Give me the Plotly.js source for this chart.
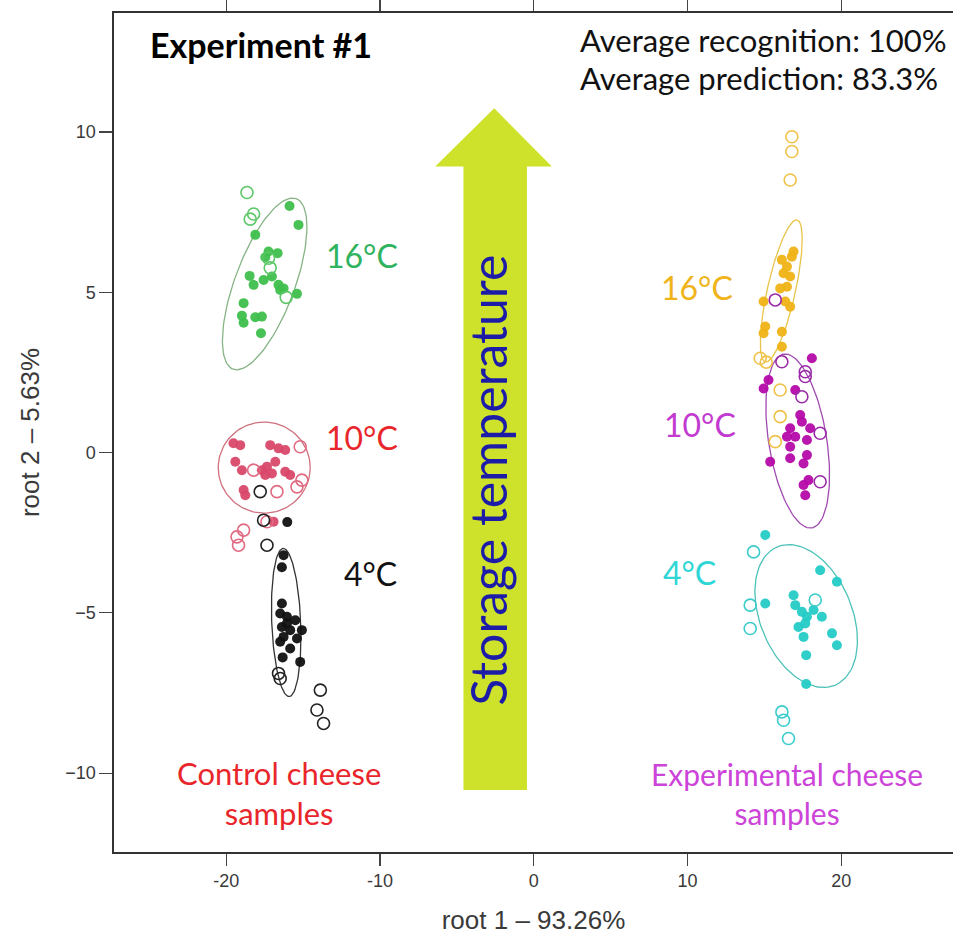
<!DOCTYPE html>
<html>
<head>
<meta charset="utf-8">
<script src="https://cdn.plot.ly/plotly-3.0.1.min.js"></script>
<style>html,body{margin:0;padding:0;background:#fff;}#chart{width:953px;height:936px;}</style>
</head>
<body>
<div id="chart"></div>
<script>
// ---- Data ----
// Control cheese, 16°C
const ctl16FilledX = [-15.88,-15.30,-18.11,-17.25,-16.66,-17.46,-18.48,-18.22,-17.57,-17.03,-16.60,-16.27,-15.40,-18.87,-18.98,-18.87,-18.11,-17.68,-17.74,-16.49];
const ctl16FilledY = [7.69,7.10,6.79,6.27,6.22,6.09,5.51,5.23,5.38,5.49,5.23,5.12,4.95,4.66,4.27,4.05,4.22,4.24,3.72,5.07];
const ctl16OpenX = [-18.65,-18.22,-18.44,-17.25,-17.14,-16.10];
const ctl16OpenY = [8.11,7.44,7.28,6.06,5.76,4.84];
// Control cheese, 10°C
const ctl10FilledX = [-19.53,-19.09,-17.14,-16.60,-16.16,-19.41,-18.98,-17.68,-17.35,-16.81,-17.46,-16.16,-15.84,-18.87,-18.76,-16.92,-17.03];
const ctl10FilledY = [0.29,0.23,0.23,0.13,0.08,-0.29,-0.55,-0.55,-0.44,-0.29,-0.70,-0.60,-0.70,-1.17,-1.33,-2.16,-0.65];
const ctl10OpenX = [-15.19,-18.22,-15.08,-15.40,-16.70,-17.35,-18.87,-19.30,-19.20];
const ctl10OpenY = [0.18,-0.55,-0.86,-1.07,-1.22,-2.16,-2.42,-2.63,-2.89];
// Control cheese, 4°C
const ctl4FilledX = [-16.03,-16.27,-16.38,-16.38,-16.49,-16.05,-15.51,-15.08,-16.38,-16.27,-15.84,-15.40,-16.49,-15.84,-16.33,-15.19,-16.05];
const ctl4FilledY = [-2.17,-3.20,-3.58,-4.71,-5.02,-5.12,-5.23,-5.54,-5.44,-5.75,-5.54,-5.80,-5.90,-6.11,-6.39,-6.53,-5.33];
const ctl4OpenX = [-17.79,-17.57,-17.35,-16.60,-16.49,-13.88,-14.10,-13.67];
const ctl4OpenY = [-1.22,-2.11,-2.89,-6.89,-7.05,-7.41,-8.03,-8.45];
// Experimental cheese, 16°C
const exp16FilledX = [16.90,16.14,16.79,16.25,16.68,16.47,16.03,14.95,16.36,16.68,15.06,14.95,16.14,16.14,16.47];
const exp16FilledY = [6.27,6.01,6.11,5.59,5.49,5.17,5.12,4.71,4.71,4.55,3.93,3.72,3.77,3.30,5.80];
const exp16OpenX = [16.79,16.79,16.68,14.73,15.12,16.03,16.03,15.71];
const exp16OpenY = [9.85,9.39,8.50,2.94,2.82,1.95,1.12,0.34];
// Experimental cheese, 10°C
const exp10FilledX = [18.09,15.27,14.95,17.01,17.33,17.44,16.68,17.98,17.01,17.77,16.68,15.38,16.68,17.77,17.55,17.55,17.87,17.66,16.47];
const exp10FilledY = [2.94,2.26,2.00,1.95,1.17,0.96,0.76,0.76,0.49,0.39,0.18,-0.29,-0.18,-0.08,-0.34,-1.01,-0.86,-1.33,0.49];
const exp10OpenX = [15.71,16.14,17.66,17.66,17.44,18.63,18.63];
const exp10OpenY = [4.76,2.83,2.52,2.37,1.74,0.60,-0.91];
// Experimental cheese, 4°C
const exp4FilledX = [15.06,18.63,19.72,15.06,16.90,17.01,17.44,17.77,18.74,17.22,17.66,17.55,19.40,19.72,17.72,17.72,18.20];
const exp4FilledY = [-2.57,-3.67,-4.03,-4.71,-4.45,-4.76,-4.97,-5.12,-5.12,-5.44,-5.33,-5.75,-5.64,-6.01,-6.32,-7.22,-4.91];
const exp4OpenX = [14.30,14.08,14.08,18.31,16.14,16.25,16.57];
const exp4OpenY = [-3.10,-4.76,-5.49,-4.60,-8.09,-8.35,-8.92];

// Confidence ellipses: centre and two conjugate semi-axis vectors (data units)
const ellipseNames = ["ctl16","ctl10","ctl4","exp16","exp10","exp4"];
const ellipseCx = [-17.50,-17.53,-16.10,16.10,17.17,17.72];
const ellipseCy = [5.26,-0.47,-5.30,5.04,0.36,-5.10];
const ellipseUx = [2.05,2.99,-0.195,1.03,-0.91,1.87];
const ellipseUy = [2.66,0.00,2.31,2.215,2.71,-2.16];
const ellipseVx = [1.83,0.00,0.94,0.89,1.86,-2.76];
const ellipseVy = [-0.32,1.42,0.02,-0.096,0.144,-0.55];

// Storage-temperature arrow outline (data units)
const arrowX = [-4.57,-4.57,-6.41,-2.57,1.18,-0.44,-0.44];
const arrowY = [-10.53,8.92,8.92,10.74,8.92,8.92,-10.53];

// Tick labels
const xTickVals = [-20,-10,0,10,20];
const yTickVals = [-10,-5,0,5,10];

// ---- Styling ----
const groupFill = {ctl16:"#3fbf4c", ctl10:"#d9486a", ctl4:"#111111", exp16:"#efb316", exp10:"#b40aa8", exp4:"#25cbc6"};
const groupOpen = {ctl16:"#5cc767", ctl10:"#e06a82", ctl4:"#222222", exp16:"#f0c24a", exp10:"#9a2aa8", exp4:"#3ccccc"};
const groupEll  = {ctl16:"#86b486", ctl10:"#d0707e", ctl4:"#333333", exp16:"#e8c448", exp10:"#a04ab0", exp4:"#4cc2b8"};

const groups = {
  ctl16:[ctl16FilledX,ctl16FilledY,ctl16OpenX,ctl16OpenY],
  ctl10:[ctl10FilledX,ctl10FilledY,ctl10OpenX,ctl10OpenY],
  ctl4:[ctl4FilledX,ctl4FilledY,ctl4OpenX,ctl4OpenY],
  exp16:[exp16FilledX,exp16FilledY,exp16OpenX,exp16OpenY],
  exp10:[exp10FilledX,exp10FilledY,exp10OpenX,exp10OpenY],
  exp4:[exp4FilledX,exp4FilledY,exp4OpenX,exp4OpenY]
};

const traces = [];
ellipseNames.forEach((g,i)=>{
  const ex=[], ey=[];
  for(let k=0;k<=120;k++){
    const t = 2*Math.PI*k/120;
    ex.push(ellipseCx[i] + ellipseUx[i]*Math.cos(t) + ellipseVx[i]*Math.sin(t));
    ey.push(ellipseCy[i] + ellipseUy[i]*Math.cos(t) + ellipseVy[i]*Math.sin(t));
  }
  traces.push({x:ex,y:ey,mode:"lines",type:"scatter",line:{color:groupEll[g],width:1.3},hoverinfo:"skip",showlegend:false});
});
Object.keys(groups).forEach(g=>{
  const d = groups[g];
  traces.push({x:d[0],y:d[1],mode:"markers",type:"scatter",showlegend:false,
    marker:{symbol:"circle",size:10,color:groupFill[g],opacity:0.95,line:{width:0}}});
  traces.push({x:d[2],y:d[3],mode:"markers",type:"scatter",showlegend:false,
    marker:{symbol:"circle-open",size:12,color:groupOpen[g],line:{width:1.6,color:groupOpen[g]}}});
});

let arrowPath = "M " + arrowX[0] + "," + arrowY[0];
for(let i=1;i<arrowX.length;i++){ arrowPath += " L " + arrowX[i] + "," + arrowY[i]; }
arrowPath += " Z";

const cal = "Lato, 'Open Sans', sans-serif";
const axFont = "Liberation Sans, Arial, sans-serif";
const ann = (text,x,y,color,size,extra)=>Object.assign({text:text,x:x,y:y,xref:"x",yref:"y",showarrow:false,
  font:{family:cal,size:size,color:color},xanchor:"center",yanchor:"middle"},extra||{});

const layout = {
  width:953, height:936,
  margin:{l:114,r:0,t:13,b:84},
  paper_bgcolor:"#ffffff", plot_bgcolor:"#ffffff",
  showlegend:false,
  xaxis:{range:[-27.3,27.27],tickvals:xTickVals,ticktext:xTickVals.map(String),ticks:"outside",ticklen:12,tickwidth:1.2,tickcolor:"#444",
    showline:true,linecolor:"#333",linewidth:1.6,mirror:"ticks",showgrid:false,zeroline:false,
    tickfont:{family:axFont,size:18,color:"#3a3a3a"},
    title:{text:"root 1 – 93.26%",font:{family:axFont,size:26,color:"#3a3a3a"},standoff:20}},
  yaxis:{range:[-12.46,13.71],tickvals:yTickVals,ticktext:yTickVals.map(v=>v<0?"−"+Math.abs(v):String(v)),ticks:"outside",ticklen:13,tickwidth:1.2,tickcolor:"#444",
    showline:true,linecolor:"#333",linewidth:1.6,mirror:false,showgrid:false,zeroline:false,
    tickfont:{family:axFont,size:18,color:"#3a3a3a"},
    title:{text:"root 2 – 5.63%",font:{family:axFont,size:26,color:"#3a3a3a"},standoff:18}},
  shapes:[{type:"path",xref:"x",yref:"y",path:arrowPath,fillcolor:"#cfe22b",line:{width:0},layer:"below"}],
  annotations:[
    {text:"<b>Experiment #1</b>",xref:"paper",yref:"paper",x:0.0405,y:0.962,xanchor:"left",yanchor:"middle",showarrow:false,font:{family:cal,size:34,color:"#000"}},
    {text:"Average recognition: 100%",xref:"paper",yref:"paper",x:0.553,y:0.968,xanchor:"left",yanchor:"middle",showarrow:false,font:{family:cal,size:31,color:"#111"}},
    {text:"Average prediction: 83.3%",xref:"paper",yref:"paper",x:0.553,y:0.9225,xanchor:"left",yanchor:"middle",showarrow:false,font:{family:cal,size:31,color:"#111"}},
    ann("16°C",-11.15,6.16,"#2fb35e",32),
    ann("10°C",-11.15,0.48,"#e8262b",32),
    ann("4°C",-10.63,-3.76,"#111111",32),
    ann("16°C",10.63,5.16,"#f0b41a",32),
    ann("10°C",10.83,0.86,"#c23ad0",32),
    ann("4°C",10.11,-3.73,"#2fd6d6",32),
    ann("Control cheese<br>samples",-16.55,-10.62,"#e8262b",31),
    ann("Experimental cheese<br>samples",16.49,-10.62,"#cc44d8",30),
    ann("Storage temperature",-3.0,-0.86,"#1c1ca8",50,{textangle:-90})
  ]
};

Plotly.newPlot("chart",traces,layout,{staticPlot:true,displayModeBar:false});
</script>
</body>
</html>
